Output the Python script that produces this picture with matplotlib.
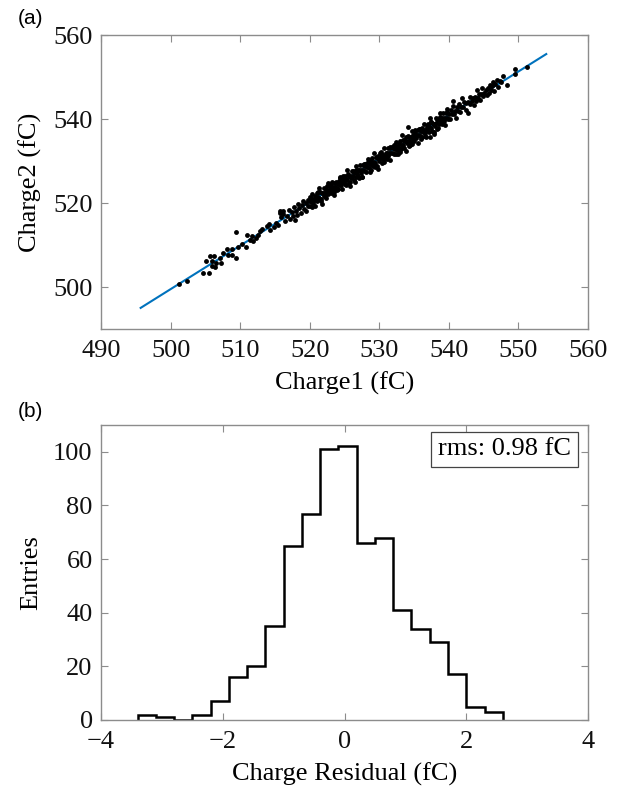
import numpy as np
import matplotlib
matplotlib.use('Agg')
import matplotlib.pyplot as plt

# ---------------- data ----------------
# (a) scatter of charge measurements (values read off the picture)
charge1 = [
    501.2, 502.3, 504.7, 505.5, 505.1, 505.6, 506.3, 505.9, 506.0, 506.4,
    506.6, 507.1, 507.2, 507.6, 508.1, 508.3, 508.8, 508.9, 509.4, 509.4,
    509.7, 510.3, 510.8, 511.0, 511.4, 511.7, 511.9, 512.3, 512.5, 512.8,
    513.2, 513.8, 514.2, 514.3, 514.8, 515.2, 515.7,
    515.5, 515.9, 516.2, 516.4, 516.7, 517.0, 517.1, 517.4, 517.6, 517.8,
    518.0, 518.2, 518.3, 518.5, 518.7, 518.9, 519.0, 519.2, 519.4, 519.5,
    519.7, 519.8, 520.0, 520.1, 520.3, 515.7, 517.9, 516.2,
    520.0, 520.1, 520.2, 520.3, 520.4, 520.5, 520.6, 520.7, 520.8, 520.9,
    521.0, 521.1, 521.2, 521.3, 521.4, 521.5, 521.6, 521.7, 521.8, 521.9,
    522.0, 522.1, 522.2, 522.3, 522.4, 522.5, 522.6, 522.7, 522.8, 522.9,
    523.0, 523.1, 523.2, 523.3, 523.4, 523.5, 523.6, 523.7, 523.8, 523.9,
    524.0, 524.1, 524.2, 524.3, 524.4,
    524.5, 524.6, 524.7, 524.8, 524.9, 525.0, 525.1, 525.2, 525.3, 525.4,
    525.5, 525.6, 525.7, 525.8, 525.9, 526.0, 526.1, 526.2, 526.3, 526.4,
    526.5, 526.6, 526.7, 526.8, 526.9, 527.0, 527.1, 527.2, 527.3, 527.4,
    527.5, 527.6, 527.7, 527.8, 527.9, 528.0, 528.1, 528.2, 528.3, 528.4,
    528.5, 528.6, 528.7, 528.8, 528.9, 529.0, 529.1, 529.2, 529.3, 529.4,
    529.5, 529.6, 529.7, 529.8, 529.9,
    530.0, 530.1, 530.2, 530.3, 530.4, 530.5, 530.6, 530.7, 530.8, 530.9,
    531.0, 531.1, 531.2, 531.3, 531.4, 531.5, 531.6, 531.7, 531.8, 531.9,
    532.0, 532.1, 532.2, 532.3, 532.4, 532.5, 532.6, 532.7, 532.8, 532.9,
    533.0, 533.1, 533.2, 533.3, 533.4, 533.5, 533.6, 533.7, 533.8, 533.9,
    534.0, 534.1, 534.2, 534.3, 534.4, 534.5, 534.6, 534.7, 534.8, 534.9,
    535.0, 535.1, 535.2, 535.3, 535.4,
    535.5, 535.6, 535.7, 535.8, 535.9, 536.0, 536.1, 536.2, 536.3, 536.4,
    536.5, 536.6, 536.7, 536.8, 536.9, 537.0, 537.1, 537.2, 537.3, 537.4,
    537.5, 537.6, 537.7, 537.8, 537.9, 538.0, 538.1, 538.2, 538.3, 538.4,
    538.5, 538.6, 538.7, 538.8, 538.9, 539.0, 539.1, 539.2, 539.3, 539.4,
    539.5, 539.6, 539.7, 539.8, 539.9,
    540.0, 540.1, 540.3, 540.4, 540.6, 540.7, 540.9, 541.0, 541.2, 541.3,
    541.5, 541.6, 541.8, 541.9, 542.1, 542.2, 542.4, 542.5, 542.7, 542.8,
    543.0, 543.1, 543.3, 543.4, 543.6, 543.7, 543.9, 544.0, 544.2, 544.3,
    544.5, 544.6, 544.8, 544.9, 545.0,
    545.3, 545.5, 545.6, 545.8, 545.9, 546.1, 546.2, 546.4, 546.5, 546.7,
    546.9, 547.1, 547.3, 547.5, 547.8, 548.4, 549.5, 549.5, 551.2,
    534.1, 540.6, 539.7, 537.3, 526.5,
    # extra points filling the dense core
    521.25, 522.15, 523.05, 523.95, 524.85, 525.75, 526.65, 527.55, 528.45, 529.35,
    530.25, 531.15, 532.05, 532.95, 533.85, 534.75, 535.65, 536.55, 537.45, 538.35,
    521.65, 522.55, 523.45, 524.35, 525.25, 526.15, 527.05, 527.95, 528.85, 529.75,
    530.65, 531.55, 532.45, 533.35, 534.25, 535.15, 536.05, 536.95, 537.85, 538.75,
]
charge2 = [
    500.7, 501.4, 503.3, 503.3, 506.1, 507.5, 507.5, 506.3, 505.0, 504.7,
    505.8, 506.9, 505.7, 508.1, 509.1, 507.7, 509.1, 507.7, 506.9, 513.1,
    509.5, 510.3, 509.5, 512.3, 511.3, 512.1, 510.9, 511.7, 512.5, 513.3,
    513.9, 514.5, 514.9, 513.5, 514.3, 515.3, 517.7,
    514.8, 516.6, 517.3, 515.6, 517.0, 518.4, 516.2, 517.9, 516.9, 519.0,
    518.2, 517.2, 519.7, 518.9, 517.6, 519.6, 520.4, 518.6, 519.9, 518.1,
    520.6, 519.3, 521.5, 520.4, 519.1, 518.1, 515.9, 518.1,
    520.5, 519.2, 521.2, 520.3, 522.1, 520.1, 520.9, 519.2, 521.6, 520.7,
    522.3, 520.4, 521.4, 523.6, 521.3, 522.6, 520.5, 522.3, 519.8, 522.3,
    521.7, 523.5, 522.3, 523.2, 521.2, 523.2, 522.1, 524.8, 522.9, 523.7,
    522.3, 523.6, 524.9, 523.0, 523.7, 521.9, 524.8, 523.7, 525.1, 523.5,
    524.6, 523.3, 525.3, 524.4, 526.2,
    524.3, 525.1, 523.4, 525.8, 524.9, 526.5, 524.6, 525.6, 527.8, 525.5,
    526.8, 524.7, 526.5, 524.0, 526.5, 525.9, 527.7, 526.5, 527.4, 525.4,
    527.3, 526.2, 528.9, 527.0, 527.8, 526.5, 527.8, 529.1, 527.2, 527.9,
    526.1, 529.0, 527.9, 529.3, 527.7, 528.8, 527.5, 529.5, 528.6, 530.4,
    528.4, 529.2, 527.5, 529.9, 529.0, 530.6, 528.7, 529.7, 531.9, 529.6,
    530.9, 528.8, 530.6, 528.1, 530.6,
    530.1, 531.9, 530.7, 531.6, 529.6, 531.5, 530.4, 533.1, 531.2, 532.0,
    530.6, 531.9, 533.2, 531.3, 532.0, 530.2, 533.1, 532.0, 533.4, 531.8,
    533.0, 531.7, 533.7, 532.8, 534.6, 532.6, 533.4, 531.7, 534.1, 533.2,
    534.8, 532.9, 533.9, 536.1, 533.8, 535.1, 533.0, 534.8, 532.3, 534.8,
    534.2, 536.0, 534.8, 535.7, 533.7, 535.6, 534.5, 537.2, 535.3, 536.1,
    534.8, 536.1, 537.4, 535.5, 536.2,
    534.4, 537.3, 536.2, 537.6, 536.0, 537.1, 535.8, 537.8, 536.9, 538.7,
    536.7, 537.5, 535.8, 538.2, 537.3, 538.9, 537.0, 538.0, 540.2, 537.9,
    539.2, 537.1, 538.9, 536.4, 538.9, 538.4, 540.2, 539.0, 539.9, 537.9,
    539.8, 538.7, 541.4, 539.5, 540.3, 538.9, 540.2, 541.5, 539.6, 540.3,
    538.5, 541.4, 540.3, 541.7, 540.1,
    541.3, 540.0, 542.1, 541.2, 543.1, 541.1, 542.0, 540.3, 542.8, 541.9,
    543.6, 541.7, 542.8, 545.0, 542.8, 544.1, 542.1, 543.9, 541.5, 544.0,
    543.5, 545.3, 544.2, 545.1, 543.3, 545.2, 544.2, 546.9, 545.1, 545.9,
    544.6, 545.9, 547.3, 545.4, 546.1,
    546.8, 545.8, 547.5, 546.3, 548.2, 546.9, 547.9, 548.9, 546.6, 548.3,
    549.4, 547.6, 549.0, 548.9, 550.2, 548.1, 550.6, 551.8, 552.5,
    538.0, 544.4, 542.5, 535.7, 524.9,
    522.7, 521.6, 524.6, 523.1, 526.4, 524.9, 527.9, 526.3, 530.1, 528.6,
    532.2, 530.4, 533.8, 532.2, 535.7, 534.0, 537.6, 536.0, 539.3, 537.6,
    520.9, 524.0, 522.6, 525.9, 524.3, 527.6, 525.9, 529.4, 527.9, 531.3,
    529.8, 533.3, 531.6, 535.1, 533.5, 536.8, 535.3, 538.6, 537.0, 540.5,
]
fit_range = [495.7, 554.0]

# (b) histogram of residuals
bin_edges = [-3.4, -3.1, -2.8, -2.5, -2.2, -1.9, -1.6, -1.3, -1.0, -0.7, -0.4,
             -0.1, 0.2, 0.5, 0.8, 1.1, 1.4, 1.7, 2.0, 2.3, 2.6]
entries = [2, 1, 0, 2, 7, 16, 20, 35, 65, 77, 101, 102, 66, 68, 41, 34, 29, 17, 5, 3]
rms_text = 'rms: 0.98 fC'

# ---------------- plot ----------------
serif = ['Liberation Serif', 'DejaVu Serif']
plt.rcParams['font.family'] = serif
fs = 19
spine_col = '#8c8c8c'

fig = plt.figure(figsize=(6.18, 7.89), dpi=100)
ax1 = fig.add_axes([101/618, 1-329/789, 487/618, 294/789])
ax2 = fig.add_axes([101/618, 1-720/789, 487/618, 295/789])

def style_axes(ax):
    for s in ax.spines.values():
        s.set_color(spine_col)
        s.set_linewidth(1.0)
    ax.tick_params(direction='in', length=5, width=0.8, color=spine_col,
                   top=True, right=True, labelsize=fs, labelcolor='#111111')
    ax.tick_params(axis='x', pad=8)
    ax.tick_params(axis='y', pad=6)

# (a) scatter + linear fit
c1 = np.array(charge1)
c2 = np.array(charge2)
p = np.polyfit(c1, c2, 1)
xl = np.array(fit_range)
ax1.plot(xl, np.polyval(p, xl), color='#0072BD', lw=1.5, zorder=1)
ax1.plot(c1, c2, 'o', color='k', ms=3.5, mew=0, zorder=2)
ax1.set_xlim(490, 560)
ax1.set_ylim(490, 560)
ax1.set_xticks(np.arange(490, 561, 10))
ax1.set_yticks(np.arange(500, 561, 20))
ax1.set_xlabel('Charge1 (fC)', fontsize=fs, labelpad=7)
ax1.set_ylabel('Charge2 (fC)', fontsize=fs, labelpad=8)
style_axes(ax1)

# (b) residual histogram
ax2.stairs(entries, bin_edges, color='k', lw=1.8)
ax2.set_xlim(-4, 4)
ax2.set_ylim(0, 110)
ax2.set_xticks([-4, -2, 0, 2, 4])
ax2.set_yticks(np.arange(0, 101, 20))
ax2.set_xlabel('Charge Residual (fC)', fontsize=fs, labelpad=7)
ax2.set_ylabel('Entries', fontsize=fs, labelpad=8)
style_axes(ax2)
ax2.text(0.965, 0.955, rms_text, transform=ax2.transAxes, ha='right', va='top',
         fontsize=fs, bbox=dict(boxstyle='square,pad=0.25', facecolor='white',
                                edgecolor='#444444', lw=0.9))

# panel labels
fig.text(18/618, 1-18/789, '(a)', fontsize=15, family='Liberation Sans', va='center')
fig.text(18/618, 1-412/789, '(b)', fontsize=15, family='Liberation Sans', va='center')

fig.savefig('out.png', dpi=100)
